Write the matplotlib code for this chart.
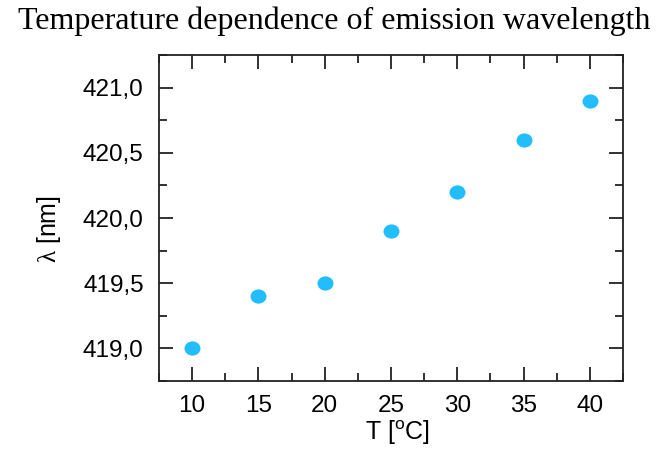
import matplotlib
matplotlib.use("Agg")
import matplotlib.pyplot as plt
from matplotlib.path import Path
from matplotlib.transforms import Affine2D
from matplotlib.ticker import MultipleLocator, FuncFormatter

# temperature (°C) and emission wavelength (nm)
temp = [10, 15, 20, 25, 30, 35, 40]
wavelength = [419.0, 419.4, 419.5, 419.9, 420.2, 420.6, 420.9]

plt.rcParams['font.family'] = ['Liberation Sans', 'DejaVu Sans']
plt.rcParams['mathtext.fontset'] = 'custom'
plt.rcParams['mathtext.rm'] = 'Liberation Serif'
plt.rcParams['mathtext.sf'] = 'Liberation Sans'

fig = plt.figure(figsize=(6.68, 4.5), dpi=100)
ax = fig.add_axes([0.238, 0.1533, 0.6946, 0.7245])

# slightly flattened dots like the reference
ellipse = Path.unit_circle().transformed(Affine2D().scale(1.0, 0.89))
ax.plot(temp, wavelength, linestyle='none', marker=ellipse, markersize=11.5,
        color='#22bdfd', markeredgewidth=0, zorder=3)

ax.set_xlim(7.5, 42.5)
ax.set_ylim(418.75, 421.25)
ax.xaxis.set_major_locator(MultipleLocator(5))
ax.xaxis.set_minor_locator(MultipleLocator(2.5))
ax.yaxis.set_major_locator(MultipleLocator(0.5))
ax.yaxis.set_minor_locator(MultipleLocator(0.25))
ax.yaxis.set_major_formatter(FuncFormatter(lambda v, p: f"{v:.1f}".replace('.', ',')))

ax.tick_params(which='both', direction='in', top=True, right=True, width=1.3,
               color='#222222', labelsize=17.5)
ax.tick_params(axis='y', pad=11)
ax.tick_params(axis='x', pad=10)
ax.tick_params(which='major', length=10)
ax.tick_params(which='minor', length=5.5)
for sp in ax.spines.values():
    sp.set_linewidth(1.3)
    sp.set_color('#222222')

ax.set_xlabel(r'T [$^{\mathsf{o}}$C]', fontsize=18)
ax.set_ylabel(r'$\mathrm{λ}$ [nm]', fontsize=18)
ax.xaxis.set_label_coords(0.515, -0.115)
ax.yaxis.set_label_coords(-0.207, 0.466)
fig.text(0.5, 0.985, 'Temperature dependence of emission wavelength',
         ha='center', va='top', fontsize=23, family=['Liberation Serif', 'DejaVu Serif'])

fig.savefig('out.png', dpi=100)
